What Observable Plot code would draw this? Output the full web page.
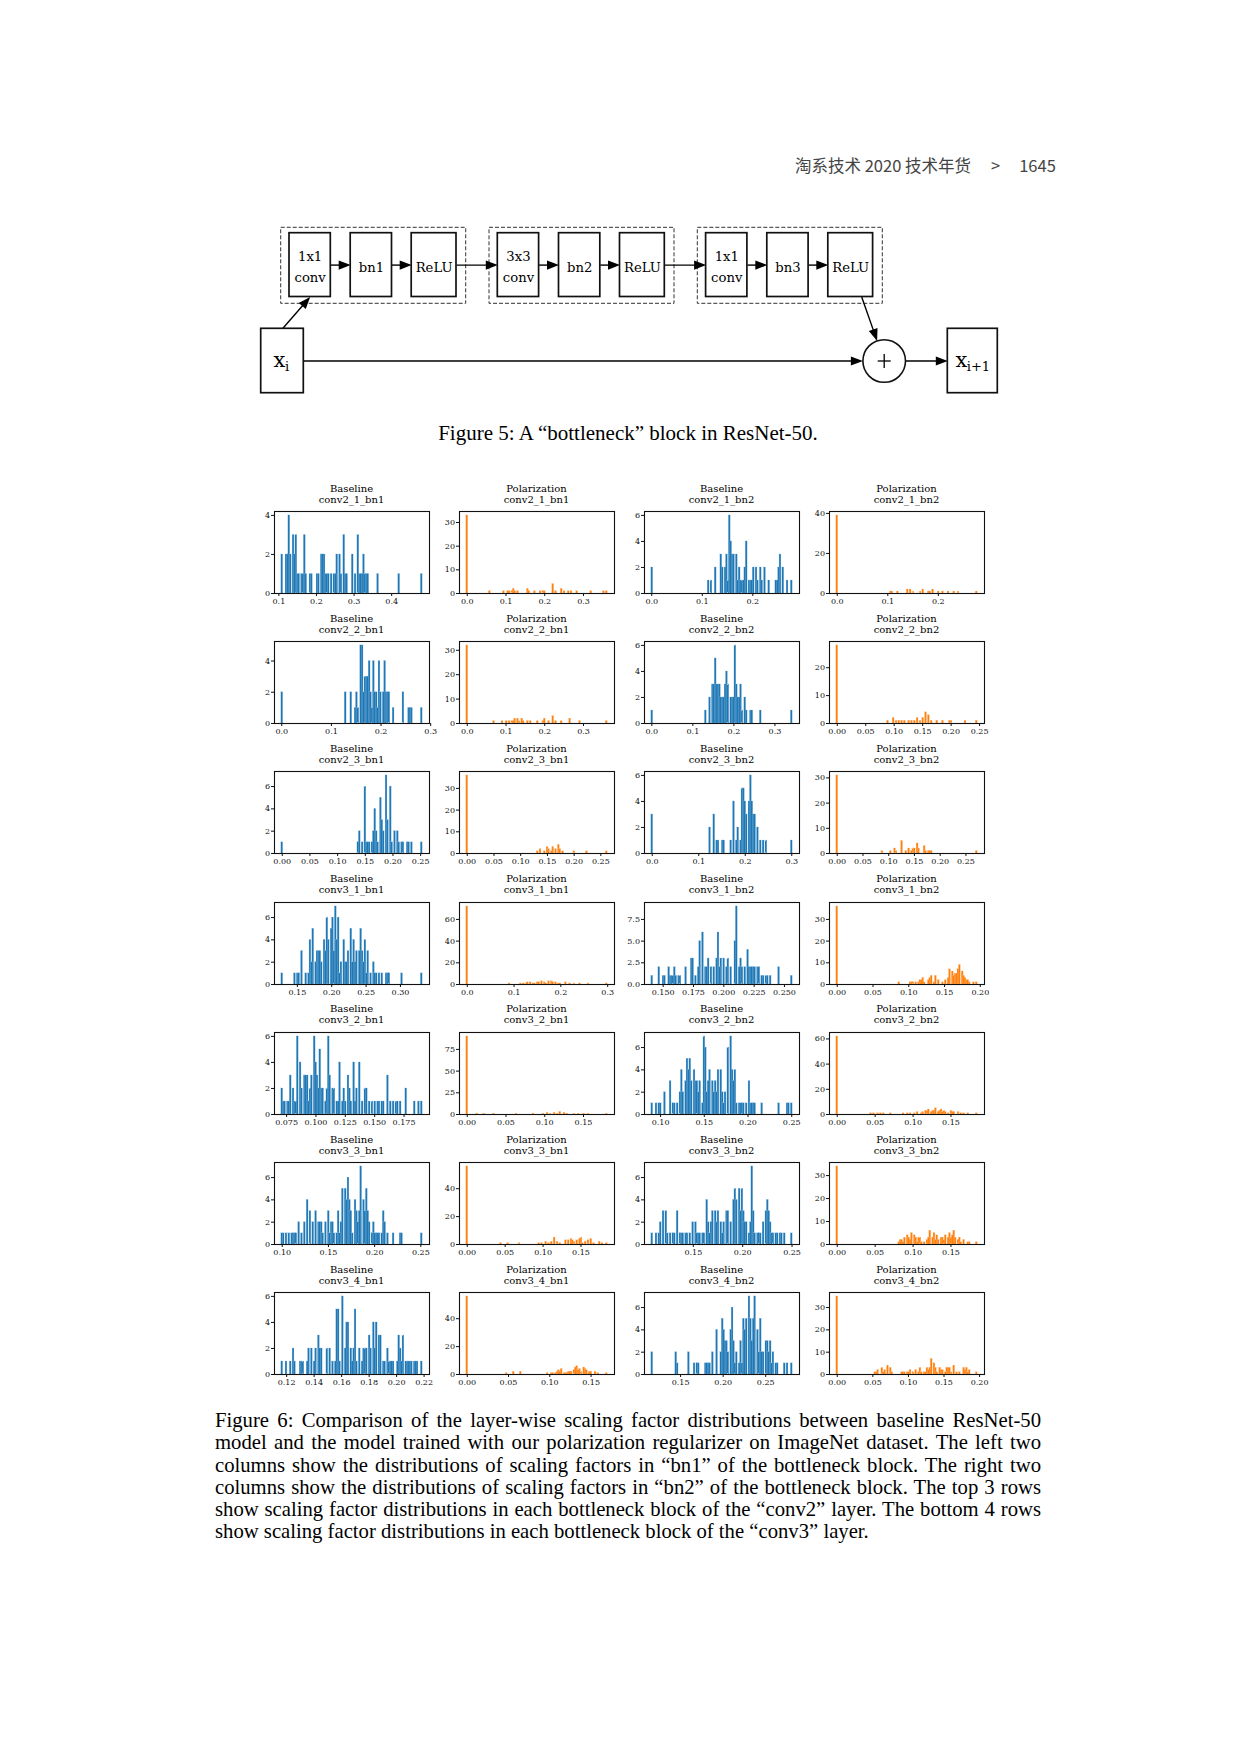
<!DOCTYPE html>
<html><head><meta charset="utf-8">
<script src="https://cdn.jsdelivr.net/npm/d3@7"></script>
<script src="https://cdn.jsdelivr.net/npm/@observablehq/plot@0.6"></script>
<style>
html,body{margin:0;padding:0;background:#fff;}
#page{position:relative;width:1240px;height:1755px;overflow:hidden;background:#fff;}
.abs{position:absolute;}
#header{left:795px;top:153px;font-family:"Noto Sans CJK SC","Noto Sans",sans-serif;font-size:16.5px;color:#444;white-space:pre;line-height:24px;}
.cap{font-family:"Liberation Serif","Times New Roman",serif;color:#000;}
#cap5{left:0;width:1256px;top:419px;text-align:center;line-height:28px;font-size:21px;}
#cap6{left:215px;width:826px;top:1409px;font-size:20.7px;}
#cap6 .ln{height:22.3px;line-height:22.3px;text-align:justify;text-align-last:justify;white-space:nowrap;}
#cap6 .ln.last{text-align-last:left;}
.ptitle{font-family:"DejaVu Serif",serif;font-size:10px;line-height:11px;text-align:center;color:#000;width:155px;white-space:nowrap;}
</style></head>
<body><div id="page">
<div id="header" class="abs"><span>淘系技术 2020 技术年货</span><span style="margin:0 19px 0 20px">&gt;</span><span>1645</span></div>
<div id="diagram" class="abs" style="left:0;top:200px;"></div>
<div id="cap5" class="abs cap">Figure 5: A “bottleneck” block in ResNet-50.</div>
<div id="cap6" class="abs cap">
<div class="ln">Figure 6: Comparison of the layer-wise scaling factor distributions between baseline ResNet-50</div>
<div class="ln">model and the model trained with our polarization regularizer on ImageNet dataset. The left two</div>
<div class="ln">columns show the distributions of scaling factors in “bn1” of the bottleneck block. The right two</div>
<div class="ln">columns show the distributions of scaling factors in “bn2” of the bottleneck block. The top 3 rows</div>
<div class="ln">show scaling factor distributions in each bottleneck block of the “conv2” layer. The bottom 4 rows</div>
<div class="ln last">show scaling factor distributions in each bottleneck block of the “conv3” layer.</div>
</div>
</div>
<script>
// ================= DATA =================
const rowNames = ["conv2_1","conv2_2","conv2_3","conv3_1","conv3_2","conv3_3","conv3_4"];
const colMethods = ["Baseline","Polarization","Baseline","Polarization"];
const colLayers = ["bn1","bn1","bn2","bn2"];
const colColors = ["#1f77b4","#ff7f0e","#1f77b4","#ff7f0e"];

// [bin centre, count]
const baseline_conv2_1_bn1 = [[0.109,2],[0.120,2],[0.124,2],[0.128,4],[0.132,2],[0.138,3],[0.142,2],[0.146,3],[0.150,1],[0.153,1],[0.160,1],[0.164,1],[0.169,3],[0.172,1],[0.184,1],[0.188,1],[0.202,1],[0.206,1],[0.213,2],[0.217,2],[0.221,2],[0.224,1],[0.228,1],[0.232,1],[0.242,1],[0.246,1],[0.250,1],[0.253,1],[0.257,2],[0.262,2],[0.265,1],[0.273,3],[0.276,1],[0.280,1],[0.298,2],[0.302,1],[0.305,1],[0.310,3],[0.314,1],[0.318,1],[0.321,1],[0.326,2],[0.329,1],[0.333,1],[0.336,1],[0.362,1],[0.419,1],[0.480,1]];
const polarization_conv2_1_bn1 = [[0,33],[0.058,1],[0.093,1],[0.105,1],[0.110,1],[0.115,1],[0.120,2],[0.124,1],[0.130,1],[0.155,2],[0.160,1],[0.175,1],[0.190,1],[0.197,1],[0.200,1],[0.220,4],[0.230,1],[0.245,2],[0.250,1],[0.260,1],[0.270,1],[0.285,1],[0.320,1],[0.352,1],[0.360,1]];
const baseline_conv2_1_bn2 = [[0.001,2],[0.113,1],[0.118,1],[0.127,2],[0.138,3],[0.141,2],[0.145,2],[0.148,3],[0.151,1],[0.155,6],[0.158,4],[0.161,3],[0.164,3],[0.167,3],[0.170,1],[0.173,2],[0.176,1],[0.179,1],[0.183,1],[0.185,2],[0.189,4],[0.192,1],[0.195,1],[0.200,1],[0.203,2],[0.207,2],[0.211,1],[0.215,2],[0.219,1],[0.225,2],[0.232,1],[0.245,1],[0.249,1],[0.253,2],[0.256,3],[0.259,2],[0.270,1],[0.277,1]];
const polarization_conv2_1_bn2 = [[0,39],[0.105,1],[0.110,1],[0.120,1],[0.140,2],[0.145,2],[0.150,1],[0.165,1],[0.170,2],[0.180,1],[0.185,1],[0.190,2],[0.200,1],[0.210,1],[0.220,1],[0.230,1],[0.240,1],[0.276,1]];

const baseline_conv2_2_bn1 = [[0.001,2],[0.130,2],[0.140,2],[0.149,1],[0.151,2],[0.155,1],[0.159,1],[0.161,5],[0.164,5],[0.167,2],[0.169,3],[0.172,3],[0.174,3],[0.176,4],[0.179,2],[0.182,1],[0.184,1],[0.186,4],[0.189,2],[0.192,2],[0.194,1],[0.198,4],[0.200,2],[0.204,2],[0.207,4],[0.210,2],[0.213,2],[0.216,2],[0.218,1],[0.225,1],[0.244,2],[0.256,1],[0.259,1],[0.262,1],[0.282,1]];
const polarization_conv2_2_bn1 = [[0,32],[0.070,1],[0.092,1],[0.100,1],[0.110,1],[0.115,1],[0.120,1],[0.125,2],[0.130,2],[0.135,1],[0.140,2],[0.145,1],[0.155,1],[0.165,1],[0.180,1],[0.195,1],[0.200,2],[0.210,1],[0.220,3],[0.230,1],[0.245,1],[0.265,2],[0.290,1],[0.360,1]];
const baseline_conv2_2_bn2 = [[0.001,1],[0.130,1],[0.143,2],[0.147,3],[0.151,3],[0.156,5],[0.159,3],[0.163,3],[0.166,3],[0.169,2],[0.172,2],[0.175,2],[0.179,3],[0.182,4],[0.185,1],[0.188,3],[0.193,2],[0.196,2],[0.200,2],[0.203,6],[0.206,3],[0.209,2],[0.214,2],[0.218,3],[0.222,1],[0.226,2],[0.232,1],[0.240,1],[0.245,1],[0.267,1],[0.341,1]];
const polarization_conv2_2_bn2 = [[0,28],[0.088,1],[0.100,2],[0.105,1],[0.110,1],[0.115,1],[0.120,1],[0.125,1],[0.130,1],[0.135,1],[0.140,2],[0.145,1],[0.150,2],[0.155,4],[0.160,3],[0.165,1],[0.175,1],[0.185,1],[0.198,1],[0.200,1],[0.225,1],[0.245,1]];

const baseline_conv2_3_bn1 = [[0.000,1],[0.138,1],[0.141,2],[0.144,1],[0.150,6],[0.153,1],[0.156,1],[0.159,1],[0.162,1],[0.165,2],[0.168,4],[0.171,2],[0.174,1],[0.177,5],[0.180,3],[0.183,2],[0.188,7],[0.191,3],[0.196,6],[0.199,1],[0.203,2],[0.208,2],[0.211,1],[0.217,1],[0.220,1],[0.226,1],[0.229,1],[0.235,1],[0.252,1]];
const polarization_conv2_3_bn1 = [[0,36],[0.131,1],[0.137,2],[0.144,1],[0.149,3],[0.153,2],[0.159,1],[0.162,3],[0.166,2],[0.171,4],[0.175,2],[0.180,1],[0.200,1],[0.225,1],[0.261,1]];
const baseline_conv2_3_bn2 = [[0.000,3],[0.125,2],[0.132,3],[0.134,1],[0.138,1],[0.141,1],[0.150,1],[0.156,1],[0.169,1],[0.177,4],[0.181,1],[0.185,2],[0.190,1],[0.193,5],[0.197,5],[0.199,4],[0.203,3],[0.208,4],[0.211,6],[0.215,4],[0.218,3],[0.222,3],[0.226,2],[0.233,1],[0.238,1],[0.244,1],[0.300,1]];
const polarization_conv2_3_bn2 = [[0,31],[0.088,1],[0.103,1],[0.111,2],[0.114,1],[0.126,5],[0.133,1],[0.140,2],[0.144,1],[0.147,2],[0.151,2],[0.155,4],[0.159,2],[0.170,3],[0.173,1],[0.177,1],[0.180,1],[0.184,1],[0.271,1]];

const baseline_conv3_1_bn1 = [[0.128,1],[0.147,1],[0.150,1],[0.152,1],[0.157,3],[0.162,1],[0.167,1],[0.169,4],[0.172,2],[0.174,5],[0.177,2],[0.179,3],[0.182,3],[0.184,3],[0.186,2],[0.189,4],[0.191,3],[0.194,6],[0.196,4],[0.199,5],[0.201,6],[0.203,3],[0.206,7],[0.208,4],[0.211,6],[0.213,1],[0.215,2],[0.218,4],[0.220,2],[0.223,2],[0.225,3],[0.228,5],[0.230,2],[0.233,4],[0.235,2],[0.237,3],[0.240,3],[0.242,5],[0.245,3],[0.247,2],[0.250,4],[0.252,1],[0.254,3],[0.257,1],[0.262,2],[0.264,1],[0.266,1],[0.269,1],[0.274,1],[0.279,1],[0.281,1],[0.283,1],[0.303,1],[0.331,1]];
const polarization_conv3_1_bn1 = [[0,72],[0.090,1],[0.115,1],[0.120,1],[0.125,1],[0.130,2],[0.135,2],[0.140,1],[0.145,1],[0.150,2],[0.155,2],[0.160,3],[0.165,2],[0.170,1],[0.175,3],[0.180,3],[0.185,2],[0.190,2],[0.195,1],[0.200,1],[0.210,2],[0.220,1],[0.230,1],[0.240,1],[0.260,1],[0.298,1]];
const baseline_conv3_1_bn2 = [[0.141,1],[0.147,2],[0.150,1],[0.151,1],[0.152,1],[0.155,2],[0.156,1],[0.157,1],[0.159,1],[0.160,2],[0.161,1],[0.163,1],[0.164,1],[0.169,2],[0.173,3],[0.174,2],[0.175,3],[0.177,1],[0.179,2],[0.180,5],[0.183,6],[0.185,2],[0.186,2],[0.188,3],[0.190,2],[0.192,2],[0.194,3],[0.196,6],[0.197,2],[0.198,3],[0.200,3],[0.202,2],[0.204,3],[0.206,2],[0.210,5],[0.211,9],[0.213,2],[0.214,3],[0.215,2],[0.218,2],[0.220,4],[0.221,2],[0.222,2],[0.224,2],[0.225,2],[0.226,2],[0.228,2],[0.229,2],[0.232,1],[0.233,1],[0.235,1],[0.236,1],[0.238,1],[0.239,1],[0.246,2],[0.256,1]];
const polarization_conv3_1_bn2 = [[0,36],[0.086,1],[0.102,1],[0.104,1],[0.107,1],[0.110,1],[0.114,1],[0.116,2],[0.119,2],[0.121,3],[0.122,1],[0.128,2],[0.130,3],[0.132,4],[0.135,1],[0.137,4],[0.142,2],[0.147,1],[0.151,2],[0.156,3],[0.158,7],[0.161,6],[0.163,4],[0.165,5],[0.168,5],[0.170,7],[0.172,9],[0.175,6],[0.177,4],[0.179,3],[0.182,2],[0.184,2],[0.186,1],[0.191,1],[0.195,1]];

const baseline_conv3_2_bn1 = [[0.0713,2],[0.0727,1],[0.0741,1],[0.0756,1],[0.0778,1],[0.0790,3],[0.0804,2],[0.0818,1],[0.0832,1],[0.0841,6],[0.0864,4],[0.0875,1],[0.0886,2],[0.0903,3],[0.0915,3],[0.0926,3],[0.0940,1],[0.0955,2],[0.0969,3],[0.0983,6],[0.0997,4],[0.1011,3],[0.1023,2],[0.1034,5],[0.1045,2],[0.1063,2],[0.1082,1],[0.1097,2],[0.1108,6],[0.1125,3],[0.1139,2],[0.1153,2],[0.1176,1],[0.1196,1],[0.1210,4],[0.1224,1],[0.1239,2],[0.1253,1],[0.1273,3],[0.1290,2],[0.1304,1],[0.1324,4],[0.1338,1],[0.1352,2],[0.1375,4],[0.1395,1],[0.1423,2],[0.1438,2],[0.1452,1],[0.1480,1],[0.1509,1],[0.1528,1],[0.1545,1],[0.1565,1],[0.1580,1],[0.1616,3],[0.1636,1],[0.1659,1],[0.1679,1],[0.1699,1],[0.1722,1],[0.1770,2],[0.1844,1],[0.1878,1],[0.1901,1]];
const polarization_conv3_2_bn1 = [[0,90],[0.012,1],[0.021,1],[0.034,1],[0.064,1],[0.086,1],[0.099,1],[0.103,2],[0.107,1],[0.112,2],[0.116,1],[0.120,3],[0.125,2],[0.129,1],[0.138,1],[0.144,1],[0.150,1],[0.157,1],[0.180,1]];
const baseline_conv3_2_bn2 = [[0.0905,1],[0.0954,1],[0.0981,1],[0.1008,1],[0.1046,2],[0.1122,3],[0.1145,1],[0.1168,1],[0.1191,1],[0.1221,2],[0.1248,4],[0.1267,2],[0.1286,3],[0.1305,5],[0.1324,4],[0.1344,5],[0.1363,3],[0.1382,4],[0.1401,3],[0.1420,3],[0.1439,2],[0.1458,3],[0.1477,1],[0.1496,7],[0.1515,6],[0.1534,2],[0.1553,3],[0.1573,4],[0.1592,3],[0.1611,2],[0.1630,3],[0.1649,2],[0.1668,4],[0.1687,4],[0.1706,2],[0.1725,1],[0.1744,2],[0.1771,6],[0.1802,7],[0.1821,4],[0.1840,3],[0.1859,4],[0.1878,1],[0.1897,1],[0.1916,1],[0.1935,1],[0.1954,1],[0.1992,1],[0.2011,3],[0.2030,1],[0.2050,1],[0.2069,1],[0.2088,1],[0.2156,1],[0.2355,1],[0.2450,1],[0.2470,1],[0.2500,1]];
const polarization_conv3_2_bn2 = [[0,62],[0.044,1],[0.049,1],[0.053,1],[0.058,1],[0.062,1],[0.071,1],[0.088,1],[0.093,1],[0.097,1],[0.102,1],[0.106,2],[0.111,1],[0.113,2],[0.117,3],[0.119,3],[0.121,4],[0.124,2],[0.126,3],[0.128,3],[0.130,5],[0.133,2],[0.135,3],[0.137,4],[0.139,2],[0.141,3],[0.143,2],[0.146,1],[0.150,3],[0.152,2],[0.155,2],[0.159,2],[0.164,1],[0.168,1],[0.172,1],[0.184,1]];

const baseline_conv3_3_bn1 = [[0.100,1],[0.102,1],[0.105,1],[0.108,1],[0.110,1],[0.112,1],[0.114,1],[0.115,1],[0.119,2],[0.122,1],[0.124,2],[0.128,4],[0.130,3],[0.131,1],[0.134,2],[0.136,3],[0.137,2],[0.139,2],[0.141,2],[0.143,2],[0.144,1],[0.147,2],[0.150,3],[0.152,1],[0.154,2],[0.155,2],[0.157,1],[0.159,1],[0.161,3],[0.163,1],[0.164,2],[0.166,5],[0.168,5],[0.170,4],[0.172,6],[0.173,4],[0.175,3],[0.177,1],[0.179,4],[0.181,3],[0.183,2],[0.184,3],[0.186,7],[0.188,4],[0.190,3],[0.192,5],[0.193,3],[0.195,2],[0.197,1],[0.199,2],[0.201,1],[0.202,1],[0.204,1],[0.206,1],[0.208,1],[0.210,3],[0.212,2],[0.214,1],[0.215,1],[0.221,1],[0.228,1],[0.230,1],[0.251,1]];
const polarization_conv3_3_bn1 = [[0,56],[0.044,1],[0.053,1],[0.068,1],[0.095,1],[0.099,1],[0.104,2],[0.108,1],[0.112,2],[0.115,5],[0.119,2],[0.123,1],[0.130,3],[0.133,3],[0.137,4],[0.139,3],[0.141,2],[0.145,3],[0.148,4],[0.150,5],[0.152,1],[0.156,2],[0.160,3],[0.163,4],[0.168,1],[0.174,2],[0.179,1],[0.184,1]];
const baseline_conv3_3_bn2 = [[0.1084,1],[0.1128,1],[0.1152,1],[0.1169,2],[0.1196,3],[0.1220,3],[0.1236,1],[0.1270,1],[0.1297,1],[0.1314,1],[0.1345,3],[0.1372,1],[0.1389,1],[0.1405,1],[0.1422,1],[0.1439,1],[0.1473,1],[0.1500,2],[0.1524,2],[0.1541,1],[0.1557,1],[0.1574,1],[0.1591,1],[0.1608,1],[0.1635,4],[0.1649,2],[0.1666,1],[0.1682,2],[0.1703,3],[0.1726,3],[0.1743,2],[0.1760,3],[0.1777,2],[0.1794,1],[0.1811,2],[0.1838,3],[0.1861,3],[0.1878,2],[0.1912,4],[0.1929,5],[0.1946,4],[0.1963,5],[0.1980,3],[0.1997,5],[0.2014,3],[0.2030,2],[0.2047,2],[0.2064,1],[0.2081,2],[0.2098,7],[0.2115,3],[0.2132,1],[0.2149,1],[0.2166,1],[0.2182,1],[0.2216,2],[0.2233,3],[0.2250,4],[0.2267,3],[0.2284,2],[0.2301,1],[0.2318,1],[0.2334,1],[0.2351,1],[0.2385,1],[0.2402,1],[0.2419,1],[0.2497,1]];
const polarization_conv3_3_bn2 = [[0,34],[0.081,1],[0.084,2],[0.086,2],[0.088,1],[0.090,3],[0.092,4],[0.095,3],[0.097,2],[0.099,5],[0.102,4],[0.104,3],[0.106,1],[0.108,3],[0.110,3],[0.112,1],[0.115,1],[0.119,2],[0.121,3],[0.123,6],[0.126,3],[0.128,5],[0.130,2],[0.132,4],[0.134,2],[0.137,3],[0.139,3],[0.141,2],[0.143,4],[0.146,3],[0.148,5],[0.150,3],[0.152,4],[0.154,6],[0.157,3],[0.159,2],[0.161,3],[0.163,1],[0.168,2],[0.172,1],[0.174,1],[0.184,1]];

const baseline_conv3_4_bn1 = [[0.1168,1],[0.1200,1],[0.1234,1],[0.1249,2],[0.1258,1],[0.1297,1],[0.1307,1],[0.1326,1],[0.1355,1],[0.1363,2],[0.1387,2],[0.1399,1],[0.1411,2],[0.1435,3],[0.1448,2],[0.1460,2],[0.1501,2],[0.1520,2],[0.1533,1],[0.1557,1],[0.1564,5],[0.1581,5],[0.1593,1],[0.1613,6],[0.1625,2],[0.1642,4],[0.1654,4],[0.1666,2],[0.1678,1],[0.1690,2],[0.1702,5],[0.1715,1],[0.1727,2],[0.1751,1],[0.1763,2],[0.1775,2],[0.1787,2],[0.1800,3],[0.1817,2],[0.1831,4],[0.1841,2],[0.1855,4],[0.1872,3],[0.1889,3],[0.1904,1],[0.1921,1],[0.1933,2],[0.1945,1],[0.1957,1],[0.1969,1],[0.1982,1],[0.2006,1],[0.2018,3],[0.2030,2],[0.2042,1],[0.2054,3],[0.2067,1],[0.2079,1],[0.2091,1],[0.2103,1],[0.2115,1],[0.2127,1],[0.2139,1],[0.2151,1],[0.2183,1]];
const polarization_conv3_4_bn1 = [[0,56],[0.048,1],[0.056,2],[0.065,2],[0.097,1],[0.102,1],[0.104,1],[0.107,1],[0.109,2],[0.111,3],[0.113,2],[0.115,4],[0.117,1],[0.119,1],[0.121,1],[0.123,2],[0.125,2],[0.127,2],[0.129,3],[0.131,5],[0.133,6],[0.135,3],[0.137,4],[0.139,2],[0.141,5],[0.143,4],[0.145,3],[0.147,1],[0.149,2],[0.151,2],[0.155,2],[0.159,1],[0.169,1]];
const baseline_conv3_4_bn2 = [[0.1167,2],[0.1453,2],[0.1469,1],[0.1598,2],[0.1657,1],[0.1696,1],[0.1716,1],[0.1794,1],[0.1814,1],[0.1833,1],[0.1853,1],[0.1873,2],[0.1931,4],[0.1971,2],[0.1990,5],[0.2010,4],[0.2029,3],[0.2049,3],[0.2069,2],[0.2088,4],[0.2108,6],[0.2127,3],[0.2147,1],[0.2167,2],[0.2186,1],[0.2206,3],[0.2225,1],[0.2245,5],[0.2265,4],[0.2284,5],[0.2304,7],[0.2324,5],[0.2343,3],[0.2363,5],[0.2382,7],[0.2402,4],[0.2422,2],[0.2441,5],[0.2461,2],[0.2480,2],[0.2500,3],[0.2520,3],[0.2539,2],[0.2559,3],[0.2578,1],[0.2598,2],[0.2618,1],[0.2637,1],[0.2716,1],[0.2755,1],[0.2806,1]];
const polarization_conv3_4_bn2 = [[0,35],[0.054,1],[0.056,1],[0.058,2],[0.063,3],[0.065,1],[0.068,2],[0.072,4],[0.075,3],[0.078,1],[0.091,1],[0.093,1],[0.096,1],[0.098,1],[0.100,1],[0.103,2],[0.107,1],[0.111,2],[0.114,1],[0.117,3],[0.119,1],[0.122,1],[0.124,1],[0.126,3],[0.129,2],[0.131,3],[0.133,7],[0.136,5],[0.138,3],[0.140,1],[0.144,3],[0.146,2],[0.149,2],[0.152,1],[0.154,3],[0.157,3],[0.159,3],[0.161,1],[0.164,4],[0.168,1],[0.173,1],[0.178,3],[0.180,2],[0.182,3],[0.185,1],[0.187,2],[0.196,1]];

// tick values per row (4 panels each)
const xTicks = [
  [[0.1,0.2,0.3,0.4],[0,0.1,0.2,0.3],[0,0.1,0.2],[0,0.1,0.2]],
  [[0,0.1,0.2,0.3],[0,0.1,0.2,0.3],[0,0.1,0.2,0.3],[0,0.05,0.10,0.15,0.20,0.25]],
  [[0,0.05,0.10,0.15,0.20,0.25],[0,0.05,0.10,0.15,0.20,0.25],[0,0.1,0.2,0.3],[0,0.05,0.10,0.15,0.20,0.25]],
  [[0.15,0.20,0.25,0.30],[0,0.1,0.2,0.3],[0.150,0.175,0.200,0.225,0.250],[0,0.05,0.10,0.15,0.20]],
  [[0.075,0.100,0.125,0.150,0.175],[0,0.05,0.10,0.15],[0.10,0.15,0.20,0.25],[0,0.05,0.10,0.15]],
  [[0.10,0.15,0.20,0.25],[0,0.05,0.10,0.15],[0.15,0.20,0.25],[0,0.05,0.10,0.15]],
  [[0.12,0.14,0.16,0.18,0.20,0.22],[0,0.05,0.10,0.15],[0.15,0.20,0.25],[0,0.05,0.10,0.15,0.20]]
];
const xDecimals = [[1,1,1,1],[1,1,1,2],[2,2,1,2],[2,1,3,2],[3,2,2,2],[2,2,2,2],[2,2,2,2]];
const yTicks = [
  [[0,2,4],[0,10,20,30],[0,2,4,6],[0,20,40]],
  [[0,2,4],[0,10,20,30],[0,2,4,6],[0,10,20]],
  [[0,2,4,6],[0,10,20,30],[0,2,4,6],[0,10,20,30]],
  [[0,2,4,6],[0,20,40,60],[0,2.5,5,7.5],[0,10,20,30]],
  [[0,2,4,6],[0,25,50,75],[0,2,4,6],[0,20,40,60]],
  [[0,2,4,6],[0,20,40],[0,2,4,6],[0,10,20,30]],
  [[0,2,4,6],[0,20,40],[0,2,4,6],[0,10,20,30]]
];

const panelData = [
  [baseline_conv2_1_bn1, polarization_conv2_1_bn1, baseline_conv2_1_bn2, polarization_conv2_1_bn2],
  [baseline_conv2_2_bn1, polarization_conv2_2_bn1, baseline_conv2_2_bn2, polarization_conv2_2_bn2],
  [baseline_conv2_3_bn1, polarization_conv2_3_bn1, baseline_conv2_3_bn2, polarization_conv2_3_bn2],
  [baseline_conv3_1_bn1, polarization_conv3_1_bn1, baseline_conv3_1_bn2, polarization_conv3_1_bn2],
  [baseline_conv3_2_bn1, polarization_conv3_2_bn1, baseline_conv3_2_bn2, polarization_conv3_2_bn2],
  [baseline_conv3_3_bn1, polarization_conv3_3_bn1, baseline_conv3_3_bn2, polarization_conv3_3_bn2],
  [baseline_conv3_4_bn1, polarization_conv3_4_bn1, baseline_conv3_4_bn2, polarization_conv3_4_bn2]
];

// ================= FIGURE 5 DIAGRAM =================
const blockLabels = ["1x1\nconv","bn1","ReLU","3x3\nconv","bn2","ReLU","1x1\nconv","bn3","ReLU"];
(function drawDiagram(){
  const G = {x0:280.7, step:208.3, w:185, y1:227.3, y2:303.3};
  const boxOff = [8.3,69.5,130.5], boxW = [41.3,41.3,44.8], boxY = [232.7,296.5];
  const groups = d3.range(3).map(g => ({x1:G.x0+g*G.step, x2:G.x0+g*G.step+G.w, y1:G.y1, y2:G.y2}));
  const nodes = blockLabels.map((t,i) => {
    const g = Math.floor(i/3), k = i%3, x1 = G.x0+g*G.step+boxOff[k];
    return {x1, x2:x1+boxW[k], y1:boxY[0], y2:boxY[1], cx:x1+boxW[k]/2, cy:(boxY[0]+boxY[1])/2, text:t};
  });
  const xin = {x1:260.7, x2:303.3, y1:328.3, y2:392.7};
  const xout = {x1:947.3, x2:997.3, y1:328.3, y2:392.7};
  const sum = {x:883.7, y:360.5, r:21.3};
  const midY = (boxY[0]+boxY[1])/2;
  const arrows = [];
  for (let i=0;i<nodes.length-1;i++) arrows.push({from:[nodes[i].x2, midY], to:[nodes[i+1].x1, midY]});
  arrows.push({from:[(xin.x1+xin.x2)/2, xin.y1], to:[nodes[0].cx, boxY[1]]});
  {
    const s = [nodes[8].cx+11, boxY[1]];
    const dx = sum.x - s[0], dy = sum.y - s[1], L = Math.hypot(dx,dy);
    arrows.push({from:s, to:[sum.x - dx/L*sum.r, sum.y - dy/L*sum.r]});
  }
  arrows.push({from:[xin.x2, sum.y], to:[sum.x - sum.r, sum.y]});
  arrows.push({from:[sum.x + sum.r, sum.y], to:[xout.x1, sum.y]});
  // filled arrowhead: tip at origin pointing up, 12 long, 9 wide
  const arrowHead = {draw(ctx){ ctx.moveTo(0,0); ctx.lineTo(-4.6,12); ctx.lineTo(4.6,12); ctx.closePath(); }};
  const links = [], heads = [];
  arrows.forEach(a => {
    const dx = a.to[0]-a.from[0], dy = a.to[1]-a.from[1], L = Math.hypot(dx,dy), ux = dx/L, uy = dy/L;
    links.push({x1:a.from[0], y1:a.from[1], x2:a.to[0]-ux*8, y2:a.to[1]-uy*8});
    heads.push({x:a.to[0], y:a.to[1], angle:Math.atan2(dx,-dy)*180/Math.PI});
  });
  const plus = [{x1:sum.x-6.5,y1:sum.y,x2:sum.x+6.5,y2:sum.y},{x1:sum.x,y1:sum.y-7,x2:sum.x,y2:sum.y+7}];
  const svg = Plot.plot({
    width:1240, height:220, margin:0,
    x:{domain:[0,1240], range:[0,1240], axis:null},
    y:{domain:[200,420], range:[0,220], axis:null},
    style:{background:"transparent", overflow:"visible"},
    marks:[
      Plot.rect(groups, {x1:"x1",x2:"x2",y1:"y1",y2:"y2", fill:"none", stroke:"#333", strokeWidth:1, strokeDasharray:"4,2"}),
      Plot.link(links, {x1:"x1",y1:"y1",x2:"x2",y2:"y2", stroke:"#000", strokeWidth:1.4}),
      Plot.rect(nodes, {x1:"x1",x2:"x2",y1:"y1",y2:"y2", fill:"#fff", stroke:"#111", strokeWidth:1.7}),
      Plot.rect([xin, xout], {x1:"x1",x2:"x2",y1:"y1",y2:"y2", fill:"#fff", stroke:"#111", strokeWidth:1.7}),
      Plot.dot([sum], {x:"x", y:"y", r:sum.r, fill:"#fff", stroke:"#111", strokeWidth:1.6}),
      Plot.link(plus, {x1:"x1",y1:"y1",x2:"x2",y2:"y2", stroke:"#000", strokeWidth:1.3}),
      Plot.dot(heads, {x:"x", y:"y", symbol:arrowHead, rotate:"angle", fill:"#000", stroke:"none"}),
      Plot.text(nodes, {x:"cx", y:"cy", text:"text", fontSize:13.2, fontFamily:"DejaVu Serif", lineHeight:1.54, fill:"#000"}),
      Plot.text([xin], {x:d=>(d.x1+d.x2)/2-3, y:d=>(d.y1+d.y2)/2-1, text:()=>"x", fontSize:21, fontFamily:"DejaVu Serif", fill:"#000"}),
      Plot.text([xin], {x:d=>(d.x1+d.x2)/2+2.5, y:d=>(d.y1+d.y2)/2+6, text:()=>"i", fontSize:13, fontFamily:"DejaVu Serif", textAnchor:"start", fill:"#000"}),
      Plot.text([xout], {x:d=>d.x1+13.5, y:d=>(d.y1+d.y2)/2-1, text:()=>"x", fontSize:21, fontFamily:"DejaVu Serif", fill:"#000"}),
      Plot.text([xout], {x:d=>d.x1+19, y:d=>(d.y1+d.y2)/2+6, text:()=>"i+1", fontSize:13, fontFamily:"DejaVu Serif", textAnchor:"start", fill:"#000"})
    ]
  });
  document.getElementById("diagram").appendChild(svg);
})();

// ================= FIGURE 6 HISTOGRAMS =================
const frame = {left0:274, top0:511, dx:185, dy:130.2, w:155, h:82};
const mL=24, mR=8, mT=4, mB=16;
const page = document.getElementById("page");
rowNames.forEach((rn, r) => {
  colMethods.forEach((method, c) => {
    const raw = panelData[r][c];
    const minX = d3.min(raw, d=>d[0]), maxX = d3.max(raw, d=>d[0]);
    const bw = (maxX-minX)/99;
    const lo = minX-bw/2, hi = maxX+bw/2, pad = (hi-lo)*0.05;
    // snap readings onto the 100-bin grid of the histogram
    const bins = d3.rollups(raw, v => d3.max(v, d=>d[1]), d => Math.round((d[0]-minX)/bw))
      .sort((a,b) => b[1]-a[1])
      .map(([i,n]) => ({x1:lo+(i-0.17)*bw, x2:lo+(i+1.17)*bw, n}));
    const ymax = d3.max(raw, d=>d[1]);
    const fl = frame.left0 + c*frame.dx, ft = frame.top0 + r*frame.dy;
    const xd = xDecimals[r][c];
    const yd = d3.max(yTicks[r][c], t => (String(t).split(".")[1]||"").length);
    const svg = Plot.plot({
      width: frame.w+mL+mR, height: frame.h+mT+mB,
      marginLeft:mL, marginRight:mR, marginTop:mT, marginBottom:mB,
      style:{fontFamily:"DejaVu Serif", fontSize:"8px", color:"#111", background:"transparent", overflow:"visible"},
      x:{domain:[lo-pad, hi+pad], ticks:xTicks[r][c], tickFormat:d3.format(`.${xd}f`), tickSize:3, tickPadding:1.5, label:null},
      y:{domain:[0, ymax*1.05], ticks:yTicks[r][c], tickFormat:d3.format(`.${yd}f`), tickSize:3, tickPadding:1.5, label:null},
      marks:[
        Plot.rectY(bins, {x1:"x1", x2:"x2", y1:0, y2:"n", fill:colColors[c], stroke:c%2===0?"#9cc6e6":"#ffc388", strokeWidth:0.22}),
        Plot.frame({stroke:"#111", strokeWidth:1.1})
      ]
    });
    const holder = document.createElement("div");
    holder.className = "abs";
    holder.style.left = (fl - mL) + "px";
    holder.style.top = (ft - mT) + "px";
    holder.appendChild(svg);
    page.appendChild(holder);
    const t = document.createElement("div");
    t.className = "abs ptitle";
    t.style.left = fl + "px";
    t.style.top = (ft - 28.5) + "px";
    t.innerHTML = `${method}<br>${rn}_${colLayers[c]}`;
    page.appendChild(t);
  });
});
</script>
</body></html>
